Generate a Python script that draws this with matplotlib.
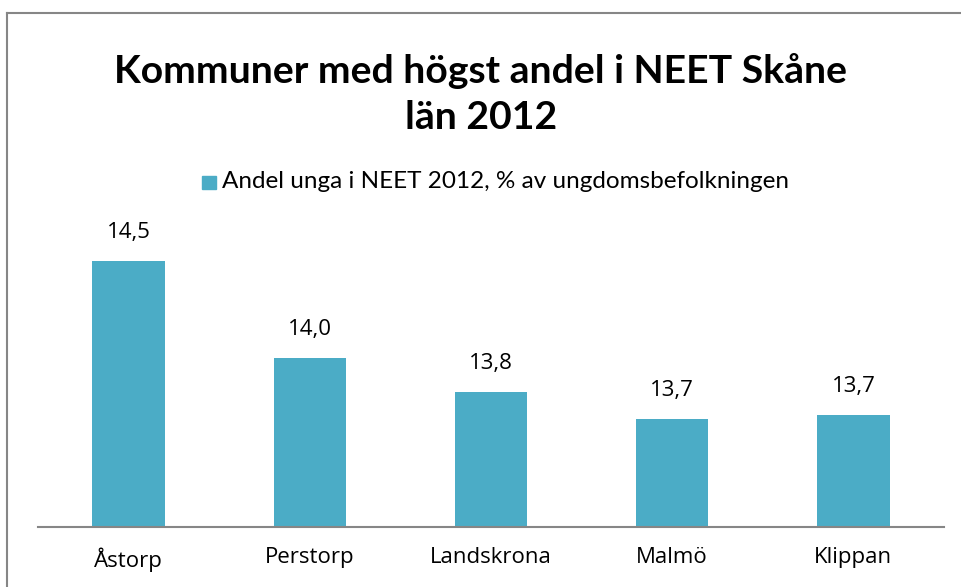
import matplotlib
matplotlib.use("Agg")
import matplotlib.pyplot as plt
from matplotlib.lines import Line2D

# data
kommuner = ["Åstorp", "Perstorp", "Landskrona", "Malmö", "Klippan"]
andel_neet = [14.5, 13.99, 13.81, 13.67, 13.69]
serie_namn = "Andel unga i NEET 2012, % av ungdomsbefolkningen"
titel = "Kommuner med högst andel i NEET Skåne\nlän 2012"

W, H = 962, 587
fig = plt.figure(figsize=(W / 100, H / 100), dpi=100)
fig.patch.set_facecolor("white")

# chart area border (top + left, the rest is cut off)
fig.add_artist(Line2D([7 / W, 1], [1 - 13 / H, 1 - 13 / H], color="#868686", lw=1.5))
fig.add_artist(Line2D([7 / W, 7 / W], [0, 1 - 13 / H], color="#868686", lw=1.5))

# plot area
bottom_px, top_px = 526.5, 242.4
ax = fig.add_axes([38 / W, 1 - bottom_px / H, (944 - 38) / W, (bottom_px - top_px) / H])
x = range(len(kommuner))
bars = ax.bar(x, andel_neet, width=0.4, color="#4BACC6", bottom=0)
ax.set_ylim(13.1, 14.6)
ax.set_xlim(-0.5, len(kommuner) - 0.5)

for rect, v in zip(bars, andel_neet):
    ax.annotate(f"{v:.1f}".replace(".", ","),
                (rect.get_x() + rect.get_width() / 2, v),
                xytext=(0, 18), textcoords="offset pixels",
                ha="center", va="bottom", fontsize=16, family="Open Sans",
                color="black", annotation_clip=False)

ax.set_xticks(list(x))
ax.set_xticklabels(kommuner, fontsize=16, family="Open Sans")
ax.tick_params(axis="x", length=0, pad=15)
ax.set_yticks([])
for s in ["top", "right", "left"]:
    ax.spines[s].set_visible(False)
ax.spines["bottom"].set_color("#868686")
ax.spines["bottom"].set_linewidth(1.5)
ax.patch.set_alpha(0)

# title
fig.text(0.5, 1 - 94 / H, titel, ha="center", va="center", fontsize=28.2,
         fontweight="bold", family="Lato", linespacing=1.4)

# legend
fig.add_artist(plt.Rectangle((202 / W, 1 - 189 / H), 14 / W, 13 / H,
                             color="#4BACC6", transform=fig.transFigure))
fig.text(222 / W, 1 - 182 / H, serie_namn, ha="left", va="center",
         fontsize=17.5, family="Lato")

fig.savefig("out.png", dpi=100)
